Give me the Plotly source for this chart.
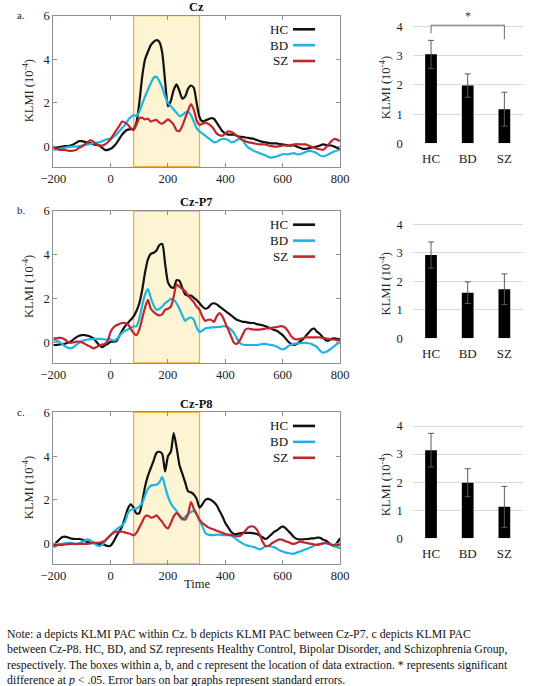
import plotly.graph_objects as go

# time axis of the ERP-style traces (ms), one sample every 10 ms
time_ms = list(range(-200, 801, 10))

# KLMI (10^-4) traces, -200 .. 800 ms
cz_hc = [0.0, -0.05, -0.02, 0.0, 0.02, 0.03, 0.05, 0.1, 0.18, 0.25,
         0.25, 0.22, 0.2, 0.15, 0.1, 0.08, 0.05, -0.05, -0.15, -0.15,
         -0.1, 0.0, 0.15, 0.35, 0.55, 0.7, 0.78, 0.8, 0.8, 1.1,
         2.0, 3.2, 4.0, 4.35, 4.65, 4.8, 4.88, 4.8, 4.3, 3.0,
         1.85, 2.1, 2.6, 2.85, 2.55, 2.2, 2.3, 2.65, 2.8, 2.7,
         2.0, 1.35, 1.15, 1.2, 1.25, 1.3, 1.28, 1.1, 0.9, 0.7,
         0.6, 0.55, 0.55, 0.55, 0.5, 0.45, 0.45, 0.42, 0.4, 0.38,
         0.35, 0.3, 0.25, 0.22, 0.2, 0.17, 0.15, 0.15, 0.15, 0.12,
         0.1, 0.08, 0.05, 0.05, 0.05, 0.0, -0.05, -0.1, -0.1, -0.08,
         -0.05, -0.02, 0.0, 0.05, 0.1, 0.08, 0.05, 0.05, 0.0, -0.05,
         -0.15]
cz_bd = [-0.15, -0.12, -0.1, -0.08, -0.05, -0.02, 0.0, 0.0, 0.0, 0.02,
         0.05, 0.08, 0.1, 0.12, 0.15, 0.18, 0.2, 0.25, 0.3, 0.35,
         0.35, 0.45, 0.55, 0.7, 0.85, 1.0, 1.2, 1.35, 1.45, 1.4,
         1.6, 1.95, 2.3, 2.6, 2.9, 3.15, 3.2, 3.0, 2.7, 2.3,
         2.0, 1.85, 1.7, 1.55, 1.4, 1.45, 1.55, 1.6, 1.45, 1.15,
         0.85, 0.7, 0.6, 0.5, 0.4, 0.3, 0.2, 0.22, 0.3, 0.35,
         0.35, 0.3, 0.2, 0.22, 0.3, 0.35, 0.3, 0.1, -0.05, -0.12,
         -0.2, -0.25, -0.3, -0.35, -0.4, -0.47, -0.5, -0.48, -0.45, -0.4,
         -0.35, -0.35, -0.35, -0.32, -0.3, -0.35, -0.35, -0.3, -0.25, -0.2,
         -0.2, -0.25, -0.3, -0.4, -0.45, -0.42, -0.35, -0.28, -0.22, -0.18,
         -0.15]
cz_sz = [-0.05, -0.1, -0.15, -0.15, -0.15, -0.18, -0.2, -0.18, -0.15, -0.05,
         0.0, 0.1, 0.2, 0.3, 0.22, 0.12, 0.05, 0.05, 0.1, 0.2,
         0.35, 0.55, 0.75, 0.95, 1.15, 1.1, 1.0, 0.85, 0.75, 1.0,
         1.3, 1.32, 1.25, 1.28, 1.15, 1.2, 1.22, 1.1, 1.05, 1.15,
         1.25, 1.15, 1.0, 0.75, 0.72, 0.95, 1.3, 1.65, 1.95, 1.7,
         1.2, 1.0, 1.05, 1.1, 1.05, 0.95, 0.8, 0.6, 0.52, 0.5,
         0.6, 0.7, 0.68, 0.6, 0.5, 0.4, 0.3, 0.25, 0.2, 0.18,
         0.15, 0.12, 0.1, 0.1, 0.1, 0.05, 0.02, 0.0, 0.0, 0.02,
         0.05, 0.05, 0.05, 0.08, 0.1, 0.12, 0.1, 0.1, 0.1, 0.05,
         0.0, -0.05, -0.1, -0.12, -0.15, -0.05, 0.1, 0.25, 0.35, 0.32,
         0.25]

p7_hc = [-0.1, -0.1, -0.08, -0.06, -0.05, 0.0, 0.05, 0.15, 0.25, 0.32,
         0.35, 0.35, 0.32, 0.28, 0.2, 0.05, -0.1, -0.2, -0.12, -0.05,
         0.05, 0.05, 0.08, 0.3, 0.55, 0.75, 0.9, 1.05, 1.2, 1.45,
         1.8, 2.4, 3.2, 3.8, 4.05, 4.1, 4.2, 4.45, 4.5, 3.6,
         2.75, 2.55, 2.5, 2.85, 2.82, 2.5, 2.2, 2.15, 2.15, 2.05,
         1.95, 1.8, 1.65, 1.55, 1.6, 1.75, 1.8, 1.75, 1.65, 1.55,
         1.45, 1.35, 1.25, 1.15, 1.05, 1.0, 0.95, 0.95, 0.92, 0.9,
         0.9, 0.85, 0.82, 0.8, 0.75, 0.7, 0.65, 0.58, 0.55, 0.45,
         0.35, 0.2, 0.05, -0.05, -0.1, -0.05, 0.05, 0.15, 0.3, 0.45,
         0.6, 0.65, 0.5, 0.4, 0.25, 0.12, 0.1, 0.18, 0.2, 0.18,
         0.15]
p7_bd = [0.12, 0.1, 0.05, -0.05, -0.15, -0.22, -0.25, -0.2, -0.1, 0.0,
         0.08, 0.12, 0.15, 0.17, 0.17, 0.18, 0.18, 0.17, 0.15, 0.15,
         0.15, 0.1, 0.15, 0.3, 0.45, 0.55, 0.6, 0.68, 0.75, 0.75,
         1.1, 1.7, 2.2, 2.45, 2.05, 1.7, 1.5, 1.55, 1.65, 1.8,
         1.9, 2.0, 1.95, 1.8, 1.55, 1.25, 1.0, 1.1, 1.15, 1.05,
         0.7, 0.5, 0.55, 0.65, 0.68, 0.7, 0.7, 0.72, 0.72, 0.75,
         0.75, 0.7, 0.6, 0.45, 0.2, 0.0, -0.08, -0.1, -0.1, -0.1,
         -0.1, -0.1, -0.08, -0.05, -0.05, -0.08, -0.1, -0.12, -0.18, -0.25,
         -0.3, -0.25, -0.15, -0.08, -0.05, -0.03, -0.02, 0.0, 0.0, -0.02,
         -0.05, -0.12, -0.2, -0.35, -0.45, -0.42, -0.35, -0.25, -0.15, -0.05,
         0.0]
p7_sz = [0.2, 0.2, 0.22, 0.22, 0.15, 0.05, 0.0, 0.02, 0.05, 0.05,
         0.02, -0.05, -0.12, -0.18, -0.25, -0.2, -0.12, -0.08, -0.05, 0.1,
         0.5, 0.7, 0.8, 0.85, 0.9, 0.9, 0.85, 0.65, 0.45, 0.35,
         0.6, 1.1, 1.6, 1.95, 1.55, 1.4, 1.3, 1.25, 1.3, 1.5,
         1.55, 1.65, 2.1, 2.65, 2.55, 2.45, 2.35, 2.15, 2.0, 1.85,
         1.65, 1.5, 1.2, 1.0, 1.05, 1.05, 0.95, 1.2, 1.35, 1.2,
         0.9, 0.6, 0.3, 0.0, -0.05, 0.1, 0.35, 0.6, 0.65, 0.62,
         0.6, 0.6, 0.6, 0.62, 0.65, 0.65, 0.68, 0.7, 0.72, 0.75,
         0.75, 0.68, 0.5, 0.3, 0.18, 0.15, 0.18, 0.2, 0.25, 0.25,
         0.25, 0.25, 0.25, 0.25, 0.22, 0.2, 0.18, 0.15, 0.15, 0.12,
         0.1]

p8_hc = [-0.1, 0.05, 0.18, 0.3, 0.33, 0.3, 0.25, 0.23, 0.22, 0.22,
         0.2, 0.15, 0.08, 0.05, 0.03, 0.02, 0.0, 0.0, -0.05, -0.1,
         -0.08, 0.1, 0.35, 0.55, 0.8, 1.2, 1.6, 1.8, 1.65, 1.38,
         1.4, 1.9, 2.6, 3.1, 3.45, 3.8, 4.15, 4.2, 4.1, 3.3,
         4.0, 4.2, 5.05, 4.4, 3.6, 3.2, 2.8, 2.4, 2.35, 2.25,
         2.05, 1.65, 1.8, 2.0, 2.05, 2.0, 1.9, 1.75, 1.5, 1.25,
         0.95, 0.75, 0.55, 0.45, 0.45, 0.48, 0.5, 0.5, 0.5, 0.5,
         0.48, 0.45, 0.38, 0.3, 0.22, 0.3, 0.42, 0.55, 0.62, 0.72,
         0.8, 0.72, 0.58, 0.45, 0.3, 0.22, 0.2, 0.2, 0.22, 0.22,
         0.25, 0.25, 0.28, 0.28, 0.2, 0.15, 0.05, -0.05, -0.12, 0.05,
         0.25]
p8_bd = [-0.15, -0.1, -0.02, 0.0, 0.02, 0.04, 0.05, 0.02, -0.02, 0.02,
         0.08, 0.15, 0.2, 0.15, 0.05, -0.05, -0.1, -0.05, 0.1, 0.25,
         0.4, 0.55, 0.65, 0.75, 0.85, 1.0, 1.4, 1.55, 1.58, 1.6,
         1.7, 1.85, 2.2, 2.5, 2.65, 2.68, 2.7, 2.8, 3.05, 2.6,
         2.15, 1.85, 1.65, 1.5, 1.25, 1.1, 1.25, 1.35, 1.45, 1.5,
         1.35, 1.05, 0.8, 0.5, 0.42, 0.4, 0.4, 0.42, 0.42, 0.4,
         0.4, 0.4, 0.38, 0.3, 0.2, 0.1, 0.02, -0.05, -0.08, -0.12,
         -0.15, -0.2, -0.25, -0.2, -0.1, -0.1, -0.12, -0.15, -0.22, -0.3,
         -0.35, -0.4, -0.42, -0.45, -0.45, -0.4, -0.35, -0.3, -0.25, -0.2,
         -0.15, -0.08, -0.03, 0.0, 0.02, 0.02, 0.0, -0.05, -0.1, -0.15,
         -0.2]
p8_sz = [-0.08, -0.06, -0.05, -0.05, -0.03, -0.02, 0.0, 0.0, 0.0, 0.0,
         0.0, 0.0, 0.0, 0.02, 0.05, 0.05, 0.05, 0.08, 0.15, 0.28,
         0.4, 0.5, 0.55, 0.56, 0.55, 0.52, 0.48, 0.45, 0.38, 0.5,
         0.75, 1.0, 1.25, 1.28, 1.2, 1.22, 1.3, 1.15, 1.0, 0.8,
         0.7, 0.95, 1.25, 1.4, 1.3, 1.15, 1.1, 1.35, 1.9, 1.6,
         1.35, 1.1, 0.95, 0.85, 0.75, 0.7, 0.65, 0.6, 0.55, 0.5,
         0.45, 0.42, 0.4, 0.38, 0.35, 0.35, 0.45, 0.6, 0.75, 0.8,
         0.78, 0.65, 0.4, 0.1, -0.1, -0.1, 0.0, 0.08, 0.15, 0.2,
         0.18, 0.12, 0.08, 0.02, 0.0, 0.05, 0.1, 0.08, 0.05, 0.02,
         0.0, -0.03, -0.05, -0.02, 0.02, 0.05, 0.0, -0.05, -0.05, -0.05,
         -0.05]

# bar graphs: mean KLMI in the extraction window, +/- standard error
groups = ["HC", "BD", "SZ"]
cz_mean = [3.05, 1.98, 1.17]
cz_se = [0.48, 0.40, 0.58]
p7_mean = [2.92, 1.60, 1.72]
p7_se = [0.46, 0.38, 0.54]
p8_mean = [3.14, 1.98, 1.12]
p8_se = [0.60, 0.50, 0.73]

window_ms = [80, 310]   # data extraction box

colors = {"HC": "#111111", "BD": "#1db4e4", "SZ": "#c2262c"}
serif = "Liberation Serif, Times New Roman, serif"
W, H = 535, 686

panels = [
    dict(tag="a.", title="Cz", series=[cz_hc, cz_bd, cz_sz], mean=cz_mean, se=cz_se,
         line_top=15.7, line_bot=166.7, bar_top=15.0, bar_bot=143.3),
    dict(tag="b.", title="Cz-P7", series=[p7_hc, p7_bd, p7_sz], mean=p7_mean, se=p7_se,
         line_top=211.0, line_bot=363.0, bar_top=212.9, bar_bot=338.3),
    dict(tag="c.", title="Cz-P8", series=[p8_hc, p8_bd, p8_sz], mean=p8_mean, se=p8_se,
         line_top=412.3, line_bot=564.0, bar_top=414.8, bar_bot=538.3),
]

fig = go.Figure()
layout = {}
shapes = []
annotations = []

frame = "#8f8f8f"

for i, p in enumerate(panels):
    lx = 2 * i + 1
    bx = 2 * i + 2
    lname = "" if lx == 1 else str(lx)
    bname = str(bx)

    # line chart
    for name, ys in zip(groups, p["series"]):
        fig.add_trace(go.Scatter(
            x=time_ms, y=ys, mode="lines", name=name, showlegend=False,
            line=dict(color=colors[name], width=2.2, shape="spline", smoothing=0.6),
            xaxis="x" + lname, yaxis="y" + lname,
        ))

    layout["xaxis" + lname] = dict(
        domain=[53.3 / W, 340 / W], anchor="y" + lname, automargin=False,
        range=[-200, 800], tickvals=[-200, 0, 200, 400, 600, 800],
        ticks="inside", ticklen=4, tickcolor=frame,
        showline=True, linecolor=frame, linewidth=1, mirror="ticks",
        showgrid=False, zeroline=False,
        tickfont=dict(family=serif, size=12.5, color="#222"),
    )
    layout["yaxis" + lname] = dict(
        domain=[1 - p["line_bot"] / H, 1 - p["line_top"] / H], anchor="x" + lname,
        automargin=False,
        range=[-0.92, 6], tickvals=[0, 2, 4, 6],
        ticks="inside", ticklen=4, tickcolor=frame,
        showline=True, linecolor=frame, linewidth=1, mirror="ticks",
        showgrid=False, zeroline=False,
        tickfont=dict(family=serif, size=12.5, color="#222"),
    )

    shapes.append(dict(
        type="rect", xref="x" + lname, yref="y" + lname + " domain",
        x0=window_ms[0], x1=window_ms[1], y0=0, y1=1,
        fillcolor="#fdf4d3", line=dict(color="#efb040", width=1.3), layer="below",
    ))

    # legend: label then line sample, as in the original
    for name, ly in zip(groups, [0.91, 0.805, 0.70]):
        annotations.append(dict(
            text=name, xref="x" + lname + " domain", yref="y" + lname + " domain",
            x=0.826, y=ly, xanchor="right", yanchor="middle", showarrow=False,
            font=dict(family=serif, size=13, color="#111"),
        ))
        shapes.append(dict(
            type="line", xref="x" + lname + " domain", yref="y" + lname + " domain",
            x0=0.836, x1=0.913, y0=ly, y1=ly,
            line=dict(color=colors[name], width=2.6),
        ))

    annotations.append(dict(
        text="<b>" + p["title"] + "</b>", xref="x" + lname + " domain",
        yref="y" + lname + " domain", x=0.5, y=1.056, xanchor="center",
        yanchor="middle", showarrow=False, font=dict(family=serif, size=12.5, color="#111"),
    ))
    annotations.append(dict(
        text=p["tag"], xref="paper", yref="y" + lname + " domain",
        x=15 / W, y=1.005, xanchor="left", yanchor="middle", showarrow=False,
        font=dict(family=serif, size=11, color="#222"),
    ))
    annotations.append(dict(
        text="KLMI (10<sup>-4</sup>)", xref="paper", yref="y" + lname + " domain",
        x=28 / W, y=0.5, xanchor="center", yanchor="middle", textangle=-90,
        showarrow=False, font=dict(family=serif, size=12.5, color="#222"),
    ))

    # bar chart
    fig.add_trace(go.Bar(
        x=groups, y=p["mean"], marker=dict(color="#000000", line=dict(width=0)),
        error_y=dict(type="data", array=p["se"], color="#5a5a5a", thickness=1, width=3),
        showlegend=False, xaxis="x" + bname, yaxis="y" + bname,
    ))
    layout["xaxis" + bname] = dict(
        domain=[412.7 / W, 522.7 / W], anchor="y" + bname, automargin=False,
        showline=False, showgrid=False, zeroline=False, ticks="",
        ticklabelstandoff=6,
        tickfont=dict(family=serif, size=13, color="#222"),
    )
    layout["yaxis" + bname] = dict(
        domain=[1 - p["bar_bot"] / H, 1 - p["bar_top"] / H], anchor="x" + bname,
        automargin=False,
        range=[0, 4.4], tickvals=[0, 1, 2, 3, 4],
        showgrid=True, gridcolor="#d9d9d9", gridwidth=1, zeroline=False,
        showline=False, ticks="", ticklabelstandoff=9,
        tickfont=dict(family=serif, size=12.5, color="#222"),
    )
    annotations.append(dict(
        text="KLMI (10<sup>-4</sup>)", xref="paper", yref="y" + bname + " domain",
        x=385 / W, y=0.43, xanchor="center", yanchor="middle", textangle=-90,
        showarrow=False, font=dict(family=serif, size=12.5, color="#222"),
    ))

# significance bracket HC vs SZ in the Cz bar graph
br = dict(color="#6a6a6a", width=1)
shapes.append(dict(type="path", xref="x2", yref="y2",
                   path="M 0,3.77 L 0,4.05 L 2,4.05 L 2,3.57", line=br))
annotations.append(dict(text="*", xref="x2", yref="y2", x=1, y=4.05,
                        xanchor="center", yanchor="bottom", showarrow=False,
                        font=dict(family=serif, size=12, color="#333")))

annotations.append(dict(
    text="Time", xref="x5 domain", yref="y5 domain", x=0.5, y=-0.13,
    xanchor="center", yanchor="middle", showarrow=False,
    font=dict(family=serif, size=12.5, color="#222"),
))

note = ("Note: a depicts KLMI PAC within Cz. b depicts KLMI PAC between Cz-P7. c depicts KLMI PAC<br>"
        "between Cz-P8. HC, BD, and SZ represents Healthy Control, Bipolar Disorder, and Schizophrenia Group,<br>"
        "respectively. The boxes within a, b, and c represent the location of data extraction. * represents significant<br>"
        "difference at <i>p</i> &lt; .05. Error bars on bar graphs represent standard errors.")
annotations.append(dict(
    text=note, xref="paper", yref="paper", x=5 / W, y=1 - 624.5 / H,
    xanchor="left", yanchor="top", align="left", showarrow=False,
    font=dict(family=serif, size=11.8, color="#111"),
))

fig.update_layout(
    width=W, height=H,
    margin=dict(l=0, r=0, t=0, b=0),
    paper_bgcolor="white", plot_bgcolor="white",
    bargap=0.68, showlegend=False,
    shapes=shapes, annotations=annotations,
    **layout,
)

# drop the browser's default page margin so the figure sits at the window corner
fig.write_html("out.html", config={"displayModeBar": False},
               post_script="document.body.style.margin='0px';")
